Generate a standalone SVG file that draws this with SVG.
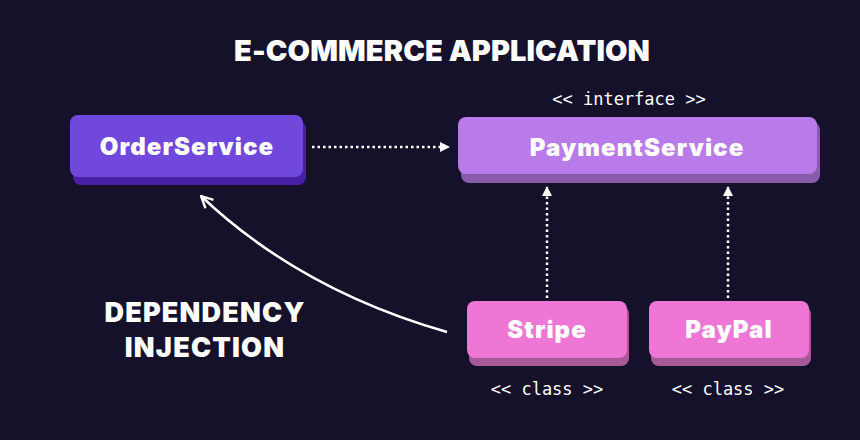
<svg xmlns="http://www.w3.org/2000/svg" width="860" height="440" viewBox="0 0 860 440">
  <defs>
    <style>
      .title { font-family: Inter, "Liberation Sans", sans-serif; font-weight: 900; fill: #ffffff; text-anchor: middle; }
      .label { font-family: Inter, "Liberation Sans", sans-serif; font-weight: 900; font-size: 24px; letter-spacing: 1.1px; fill: #ffffff; text-anchor: middle; }
      .stereo { font-family: "DejaVu Sans Mono", "Liberation Mono", monospace; font-size: 17px; fill: #ffffff; text-anchor: middle; }
      .dotted { stroke: #ffffff; stroke-width: 2.5; stroke-dasharray: 2.5 3; fill: none; }
      .curve { stroke: #ffffff; stroke-width: 2.5; fill: none; }
    </style>
    <marker id="tri" viewBox="0 0 10 10" refX="9" refY="5" markerWidth="10" markerHeight="10" markerUnits="userSpaceOnUse" orient="auto">
      <path d="M0,0 L10,5 L0,10 Z" fill="#ffffff"/>
    </marker>
    <marker id="open" viewBox="0 0 12 12" refX="11" refY="6" markerWidth="14" markerHeight="14" markerUnits="userSpaceOnUse" orient="auto">
      <path d="M1,1 L11,6 L1,11" fill="none" stroke="#ffffff" stroke-width="2" stroke-linejoin="miter"/>
    </marker>
  </defs>
  <rect x="0" y="0" width="860" height="440" fill="#15112a"/>

  <text class="title" x="442" y="61" font-size="29" letter-spacing="0.1">E-COMMERCE APPLICATION</text>

  <g id="connectors">
    <line class="dotted" x1="312" y1="147" x2="449" y2="147" marker-end="url(#tri)"/>
    <line class="dotted" x1="547" y1="298" x2="547" y2="187" marker-end="url(#tri)"/>
    <line class="dotted" x1="728" y1="298" x2="728" y2="187" marker-end="url(#tri)"/>
    <path class="curve" d="M447,332 Q300,290 201,196" marker-end="url(#open)"/>
  </g>

  <g id="OrderService">
    <rect x="73" y="121" width="233" height="64" rx="8" fill="#4a1fa8"/>
    <rect x="70" y="115" width="233" height="62" rx="8" fill="#7048dc"/>
    <text class="label" x="187" y="155" fill="#f3ecfb">OrderService</text>
  </g>

  <g id="PaymentService">
    <text class="stereo" x="629" y="105">&lt;&lt; interface &gt;&gt;</text>
    <rect x="461" y="122" width="359" height="61" rx="8" fill="#8a5aab"/>
    <rect x="458" y="117" width="359" height="57" rx="8" fill="#b87be9"/>
    <text class="label" x="637" y="156">PaymentService</text>
  </g>

  <g id="Stripe">
    <rect x="469" y="306" width="160" height="60" rx="8" fill="#a85a98"/>
    <rect x="467" y="301" width="160" height="57" rx="8" fill="#ee77d6"/>
    <text class="label" x="547" y="338">Stripe</text>
    <text class="stereo" x="547" y="395">&lt;&lt; class &gt;&gt;</text>
  </g>

  <g id="PayPal">
    <rect x="651" y="306" width="160" height="60" rx="8" fill="#a85a98"/>
    <rect x="649" y="301" width="160" height="57" rx="8" fill="#ee77d6"/>
    <text class="label" x="729" y="338">PayPal</text>
    <text class="stereo" x="728" y="395">&lt;&lt; class &gt;&gt;</text>
  </g>

  <g id="di-label">
    <text class="title" x="205" y="322" font-size="27" letter-spacing="1.2">DEPENDENCY</text>
    <text class="title" x="205" y="357" font-size="27" letter-spacing="1.2">INJECTION</text>
  </g>
</svg>
